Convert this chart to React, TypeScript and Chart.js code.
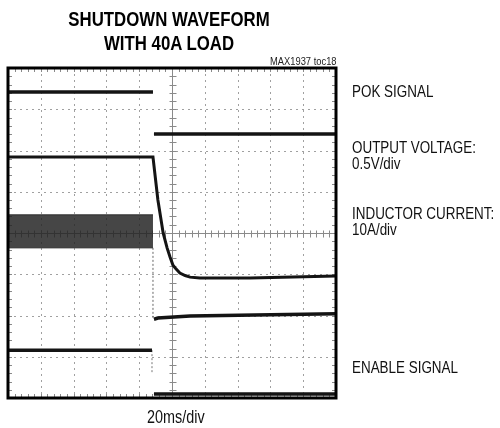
import React, { useEffect, useRef } from "react";
import { Chart, registerables } from "chart.js";

Chart.register(...registerables);

// Time axis in divisions (10 div, 20ms/div); levels in screen divisions (-4..4)
const pokTime = [0, 4.42, 4.42, 4.45, 10];
const pokLevel = [3.42, 3.42, null, 2.4, 2.4];

const voutTime = [0, 4.42, 4.57, 4.73, 4.85, 4.94, 5.03, 5.12, 5.24, 5.4, 5.55, 5.85, 7.38, 10];
const voutLevel = [1.84, 1.84, 0.8, 0.0, -0.36, -0.58, -0.78, -0.87, -0.97, -1.03, -1.07, -1.09, -1.09, -1.04];

const ilBandTime = [0, 4.42];
const ilBandTop = [0.44, 0.44];
const ilBandBottom = [-0.36, -0.36];
const ilDropTime = [4.42, 4.42];
const ilDropLevel = [-0.36, -2.08];
const ilAfterTime = [4.45, 4.57, 5.55, 10];
const ilAfterLevel = [-2.09, -2.06, -2.01, -1.96];

const enTime = [0, 4.39, 4.39, 4.45, 10];
const enLevel = [-2.84, -2.84, null, -3.9, -3.9];
const enDropTime = [4.39, 4.39];
const enDropLevel = [-2.84, -3.39];

const xDivs = [0, 1, 2, 3, 4, 5, 6, 7, 8, 9, 10];
const yDivs = [-4, -3, -2, -1, 0, 1, 2, 3, 4];

const zip = (xs: number[], ys: (number | null)[]) => xs.map((x, i) => ({ x, y: ys[i] }));

const graticule = {
  id: "graticule",
  beforeDatasetsDraw(chart: any) {
    const { ctx, chartArea: a, scales } = chart;
    const xs = scales.x;
    const ys = scales.y;
    ctx.save();
    ctx.strokeStyle = "#a0a0a0";
    ctx.lineWidth = 1;
    ctx.setLineDash([2, 4]);
    xDivs.slice(1, -1).forEach((d) => {
      if (d === 5) return;
      const px = Math.round(xs.getPixelForValue(d)) + 0.5;
      ctx.beginPath();
      ctx.moveTo(px, a.top);
      ctx.lineTo(px, a.bottom);
      ctx.stroke();
    });
    yDivs.slice(1, -1).forEach((d) => {
      if (d === 0) return;
      const py = Math.round(ys.getPixelForValue(d)) + 0.5;
      ctx.beginPath();
      ctx.moveTo(a.left, py);
      ctx.lineTo(a.right, py);
      ctx.stroke();
    });
    ctx.setLineDash([]);
    ctx.strokeStyle = "#8a8a8a";
    const cx = Math.round(xs.getPixelForValue(5)) + 0.5;
    const cy = Math.round(ys.getPixelForValue(0)) + 0.5;
    ctx.beginPath();
    ctx.moveTo(cx, a.top);
    ctx.lineTo(cx, a.bottom);
    ctx.moveTo(a.left, cy);
    ctx.lineTo(a.right, cy);
    ctx.stroke();
    ctx.beginPath();
    for (let i = 0; i <= 50; i++) {
      const px = Math.round(xs.getPixelForValue(i / 5)) + 0.5;
      ctx.moveTo(px, cy - 3);
      ctx.lineTo(px, cy + 4);
      ctx.moveTo(px, a.top);
      ctx.lineTo(px, a.top + 4);
      ctx.moveTo(px, a.bottom);
      ctx.lineTo(px, a.bottom - 4);
    }
    for (let i = -20; i <= 20; i++) {
      const py = Math.round(ys.getPixelForValue(i / 5)) + 0.5;
      ctx.moveTo(cx - 3, py);
      ctx.lineTo(cx + 4, py);
      ctx.moveTo(a.left, py);
      ctx.lineTo(a.left + 4, py);
      ctx.moveTo(a.right, py);
      ctx.lineTo(a.right - 4, py);
    }
    ctx.stroke();
    ctx.restore();
  },
  afterDatasetsDraw(chart: any) {
    const { ctx, chartArea: a } = chart;
    ctx.save();
    ctx.strokeStyle = "#000";
    ctx.lineWidth = 3;
    ctx.strokeRect(a.left, a.top, a.right - a.left, a.bottom - a.top);
    ctx.restore();
  },
};

export default function App() {
  const ref = useRef<HTMLCanvasElement | null>(null);

  useEffect(() => {
    if (!ref.current) return;
    const trace = "#141414";
    const chart = new Chart(ref.current, {
      type: "line",
      data: {
        datasets: [
          {
            label: "IL top",
            data: zip(ilBandTime, ilBandTop),
            borderColor: "#2e2e2e",
            borderWidth: 1,
            backgroundColor: "rgba(34,34,34,0.84)",
            fill: "+1",
            pointRadius: 0,
          },
          {
            label: "IL bottom",
            data: zip(ilBandTime, ilBandBottom),
            borderColor: "#2e2e2e",
            borderWidth: 1,
            fill: false,
            pointRadius: 0,
          },
          {
            label: "IL drop",
            data: zip(ilDropTime, ilDropLevel),
            borderColor: "#666",
            borderWidth: 1,
            borderDash: [2, 2],
            pointRadius: 0,
          },
          {
            label: "IL after",
            data: zip(ilAfterTime, ilAfterLevel),
            borderColor: trace,
            borderWidth: 3.5,
            pointRadius: 0,
          },
          {
            label: "POK",
            data: zip(pokTime, pokLevel),
            borderColor: trace,
            borderWidth: 3.5,
            pointRadius: 0,
            spanGaps: false,
          },
          {
            label: "VOUT",
            data: zip(voutTime, voutLevel),
            borderColor: trace,
            borderWidth: 3,
            pointRadius: 0,
          },
          {
            label: "EN",
            data: zip(enTime, enLevel),
            borderColor: trace,
            borderWidth: 3.5,
            pointRadius: 0,
            spanGaps: false,
          },
          {
            label: "EN drop",
            data: zip(enDropTime, enDropLevel),
            borderColor: "#777",
            borderWidth: 1,
            borderDash: [2, 2],
            pointRadius: 0,
          },
        ],
      } as any,
      options: {
        animation: false,
        responsive: false,
        devicePixelRatio: 1,
        layout: { padding: { left: 8, top: 68, right: 164, bottom: 30 } },
        plugins: { legend: { display: false }, tooltip: { enabled: false }, title: { display: false } },
        scales: {
          x: { type: "linear", min: 0, max: 10, display: false },
          y: { type: "linear", min: -4, max: 4, display: false },
        },
        elements: { line: { tension: 0 } },
      } as any,
      plugins: [graticule],
    });
    return () => chart.destroy();
  }, []);

  const sans = '"Liberation Sans", Arial, sans-serif';
  const lab: React.CSSProperties = {
    position: "absolute",
    left: 352,
    fontFamily: sans,
    fontSize: 17,
    lineHeight: "16px",
    color: "#111",
    whiteSpace: "nowrap",
    transform: "scaleX(0.79)",
    transformOrigin: "0 0",
  };

  return (
    <div style={{ position: "absolute", left: 0, top: 0, width: 500, height: 428, background: "#fff", overflow: "hidden" }}>
      <canvas ref={ref} width={500} height={428} style={{ position: "absolute", left: 0, top: 0, width: 500, height: 428 }} />
      <div
        style={{
          position: "absolute",
          left: 0,
          width: 338,
          top: 7,
          textAlign: "center",
          fontFamily: sans,
          fontWeight: "bold",
          fontSize: 21,
          lineHeight: "24px",
          color: "#000",
          transform: "scaleX(0.8)",
          transformOrigin: "169px 0",
        }}
      >
        SHUTDOWN WAVEFORM
        <br />
        WITH 40A LOAD
      </div>
      <div
        style={{
          position: "absolute",
          left: 270,
          top: 55,
          fontFamily: sans,
          fontSize: 11,
          color: "#222",
          whiteSpace: "nowrap",
          transform: "scaleX(0.85)",
          transformOrigin: "0 0",
        }}
      >
        MAX1937 toc18
      </div>
      <div style={{ ...lab, top: 84 }}>POK SIGNAL</div>
      <div style={{ ...lab, top: 140 }}>
        OUTPUT VOLTAGE:
        <br />
        0.5V/div
      </div>
      <div style={{ ...lab, top: 206 }}>
        INDUCTOR CURRENT:
        <br />
        10A/div
      </div>
      <div style={{ ...lab, top: 360 }}>ENABLE SIGNAL</div>
      <div
        style={{
          position: "absolute",
          left: 147,
          top: 407,
          fontFamily: sans,
          fontSize: 18,
          color: "#111",
          whiteSpace: "nowrap",
          transform: "scaleX(0.8)",
          transformOrigin: "0 0",
        }}
      >
        20ms/div
      </div>
    </div>
  );
}
